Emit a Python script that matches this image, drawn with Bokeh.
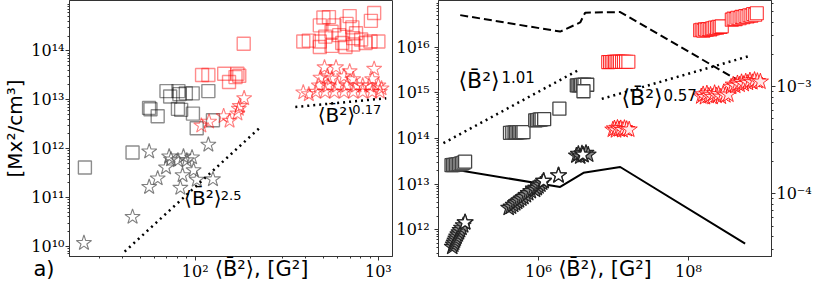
from bokeh.plotting import figure
from bokeh.models import (Range1d, LogAxis, LogScale, FixedTicker,
                          CustomJSTickFormatter)
from bokeh.layouts import row
from bokeh.models import Label
from bokeh.embed import file_html
from bokeh.resources import INLINE

# ---------------- panel a) data ----------------
a_gray_sq_x = [25, 45.5, 56, 57, 62.4, 69.7, 73, 81, 82, 88.9, 96.9, 83.8, 80.5, 97.2, 101.9, 118, 125]
a_gray_sq_y = [4.1e11, 8.3e11, 6.8e12, 6.4e12, 4.6e12, 1.5e13, 1.16e13, 1.5e13, 1.3e13, 1.35e13,
               1.35e13, 6.2e12, 6.5e12, 5.2e12, 2.6e12, 1.5e13, 3.8e12]
a_gray_st_x = [24.7, 45.5, 56.1, 56.1, 62.4, 69.3, 72.1, 73.8, 80.5, 86.3, 90, 96.1, 85.3, 98, 102, 83, 125, 118]
a_gray_st_y = [1.17e10, 4e10, 8.7e11, 1.64e11, 2.45e11, 4.1e11, 6.9e11, 6e11, 5.75e11, 6.9e11,
               5.75e11, 6.6e11, 2.85e11, 3.6e11, 2.3e11, 1.57e11, 2.35e11, 1.2e12]
a_red_sq_x = [109, 118, 144, 153, 170, 174, 166, 184,
              948, 910, 537, 501, 479, 697, 670, 721, 575, 555, 611, 389, 417, 479, 479,
              555, 635, 661, 729, 729, 805, 851, 906, 1000, 513, 755]
a_red_sq_y = [3.2e13, 3.2e13, 3.4e13, 2.3e13, 3.4e13, 3.1e13, 2.9e13, 1.4e14,
              5.94e14, 4.1e14, 4.9e14, 4.79e14, 3.31e14, 5.13e14, 3.55e14, 3.02e14, 3.31e14,
              2.45e14, 2.09e14, 1.55e14, 1.62e14, 1.55e14, 1.2e14, 1.26e14, 1.45e14, 1.2e14,
              1.82e14, 1.35e14, 1.7e14, 1.45e14, 1.55e14, 1.55e14, 1.95e14, 2.29e14]
a_red_st_x = [108, 119, 143, 154, 170, 173, 175, 185,
              389, 417, 508, 587, 697, 948, 483, 525, 556, 649, 729, 925,
              473, 532, 598, 674, 759, 821, 889, 1000, 1040,
              455, 512, 575, 649, 729, 821, 925, 1018]
a_red_st_y = [2.95e12, 3.55e12, 4.6e12, 3.7e12, 5.2e12, 6.5e12, 7.4e12, 1.07e13,
              1.41e13, 1.29e13, 4.6e13, 4.6e13, 3.8e13, 4.27e13, 2.82e13, 3.0e13, 2.7e13,
              3.0e13, 2.63e13, 2.63e13,
              1.95e13, 1.95e13, 1.95e13, 1.95e13, 1.95e13, 1.95e13, 1.95e13, 1.95e13, 1.7e13,
              1.45e13, 1.45e13, 1.45e13, 1.45e13, 1.45e13, 1.45e13, 1.45e13, 1.45e13]
a_fit1_x = [41.2, 230.7]
a_fit1_y = [7.8e9, 2.9e12]
a_fit2_x = [352, 1104]
a_fit2_y = [7.1e12, 1.07e13]

# ---------------- panel b) data ----------------
b_gray_sq_x = [6.92e4, 7.24e4, 7.59e4, 7.94e4, 8.32e4, 8.71e4, 9.12e4, 9.55e4, 1.0e5, 1.05e5,
               4.17e5, 4.47e5, 4.79e5, 5.0e5, 5.25e5, 5.5e5, 5.75e5, 6.03e5, 6.31e5,
               9.04e5, 9.5e5, 1.0e6, 1.05e6, 1.1e6, 1.19e6,
               1.9e6,
               3.24e6, 3.4e6, 3.55e6, 3.7e6, 3.9e6, 4.1e6, 4.47e6,
               3.98e6]
b_gray_sq_y = [2.6e13, 2.62e13, 2.65e13, 2.68e13, 2.7e13, 2.75e13, 2.8e13, 2.85e13, 2.95e13, 3.1e13,
               1.33e14, 1.34e14, 1.35e14, 1.35e14, 1.36e14, 1.37e14, 1.37e14, 1.38e14, 1.38e14,
               2.5e14, 2.53e14, 2.56e14, 2.6e14, 2.62e14, 2.65e14,
               4.5e14,
               1.45e15, 1.46e15, 1.47e15, 1.48e15, 1.49e15, 1.5e15, 1.5e15,
               1.08e15]
b_red_sq_x = [8.5e6, 9.0e6, 9.5e6, 1.0e7, 1.05e7, 1.1e7, 1.16e7, 1.22e7, 1.3e7, 1.38e7, 1.47e7, 1.58e7,
              1.43e8, 1.5e8, 1.58e8, 1.66e8, 1.75e8, 1.85e8, 1.95e8, 2.05e8, 2.15e8, 2.27e8,
              2.4e8, 2.52e8, 2.65e8, 2.78e8,
              3.78e8, 4.0e8, 4.25e8, 4.5e8, 4.8e8, 5.1e8, 5.4e8, 5.75e8, 6.1e8, 6.5e8,
              6.9e8, 7.3e8, 7.75e8, 8.15e8]
b_red_sq_y = [4.7e15, 4.72e15, 4.74e15, 4.75e15, 4.76e15, 4.75e15, 4.77e15, 4.78e15, 4.76e15,
              4.78e15, 4.8e15, 4.8e15,
              2.35e16, 2.4e16, 2.3e16, 2.45e16, 2.4e16, 2.5e16, 2.45e16, 2.55e16, 2.6e16, 2.7e16,
              2.65e16, 2.8e16, 2.75e16, 2.85e16,
              4.0e16, 4.2e16, 4.1e16, 4.4e16, 4.3e16, 4.6e16, 4.5e16, 4.8e16, 4.7e16, 5.0e16,
              4.9e16, 5.3e16, 5.1e16, 5.5e16]
b_gray_st_x = [7.08e4, 7.3e4, 7.5e4, 7.7e4, 7.9e4, 8.1e4, 8.4e4, 8.7e4, 9.0e4, 9.4e4, 9.9e4, 1.05e5,
               4.0e5, 4.3e5, 4.6e5, 4.9e5, 5.2e5, 5.5e5, 5.9e5, 6.3e5, 6.8e5, 7.3e5, 7.9e5, 8.5e5,
               9.0e5, 9.5e5, 1.0e6, 1.06e6, 1.12e6, 1.17e6,
               1.85e6,
               3.2e6, 3.4e6, 3.6e6, 3.8e6, 4.0e6, 4.3e6, 4.6e6]
b_gray_st_y = [4.2e11, 4.7e11, 5.2e11, 5.8e11, 6.4e11, 7.1e11, 7.9e11, 8.8e11, 9.8e11, 1.1e12,
               1.25e12, 1.45e12,
               3.0e12, 3.2e12, 3.5e12, 3.8e12, 4.1e12, 4.4e12, 4.8e12, 5.2e12, 5.7e12, 6.3e12,
               7.0e12, 7.9e12,
               7.5e12, 8.2e12, 8.9e12, 9.7e12, 1.07e13, 1.17e13,
               1.55e13,
               4.2e13, 4.6e13, 4.0e13, 4.7e13, 4.3e13, 4.8e13, 4.4e13]
b_front_st_x = [1.05e5, 1.17e6, 1.85e6, 3.9e6]
b_front_st_y = [1.45e12, 1.17e13, 1.55e13, 4.4e13]
b_red_st_x = [9.8e6, 1.03e7, 1.08e7, 1.13e7, 1.19e7, 1.25e7, 1.32e7, 1.4e7, 1.5e7, 1.62e7,
              1.48e8, 1.57e8, 1.66e8, 1.76e8, 1.86e8, 1.97e8, 2.1e8, 2.23e8, 2.37e8, 2.52e8,
              2.7e8, 2.9e8, 3.1e8, 3.4e8,
              3.7e8, 3.95e8, 4.2e8, 4.5e8, 4.8e8, 5.1e8, 5.45e8, 5.8e8, 6.2e8, 6.6e8,
              7.1e8, 7.6e8, 8.3e8, 9.1e8]
b_red_st_y = [1.55e14, 1.65e14, 1.5e14, 1.7e14, 1.58e14, 1.66e14, 1.52e14, 1.68e14, 1.6e14, 1.56e14,
              8.3e14, 9.2e14, 8.0e14, 9.6e14, 8.5e14, 9.0e14, 8.1e14, 9.8e14, 8.6e14, 9.3e14,
              8.2e14, 9.5e14, 8.8e14, 9.1e14,
              1.35e15, 1.5e15, 1.42e15, 1.6e15, 1.5e15, 1.7e15, 1.55e15, 1.75e15, 1.65e15,
              1.85e15, 1.7e15, 1.9e15, 1.8e15, 1.75e15]
b_dash_x = [9.04e4, 1.945e6, 3.6e6, 4.19e6, 1.23e7, 5.7e8]
b_dash_y = [4.66e-3, 3.27e-3, 3.98e-3, 4.91e-3, 4.98e-3, 1.05e-3]
b_solid_x = [9.04e4, 1.945e6, 3.98e6, 1.23e7, 5.7e8]
b_solid_y = [1.65e-4, 1.16e-4, 1.57e-4, 1.78e-4, 3.43e-5]
b_fit1_x = [5.4e4, 3.41e6]
b_fit1_y = [7.9e13, 3.14e15]
b_fit2_x = [6.98e6, 6.64e8]
b_fit2_y = [7.36e14, 6.46e15]

a_x_ticks = [1e2, 1e3]
a_y_ticks = [1e10, 1e11, 1e12, 1e13, 1e14]
b_x_ticks = [1e6, 1e8]
b_y_ticks = [1e12, 1e13, 1e14, 1e15, 1e16]
b_y2_ticks = [1e-4, 1e-3]

A_X_RANGE = (20.6, 1194)
A_Y_RANGE = (6.2e9, 1.07e15)
B_X_RANGE = (4.64e4, 1.28e9)
B_Y_RANGE = (2.6e11, 1.05e17)
B_Y2_RANGE = (2.6e-5, 6.38e-3)

SANS = "DejaVu Sans"
SERIF = "DejaVu Serif"
NB = "\u00a0"
XLABEL = "\u27e8B\u0304\u00b2\u27e9, [G\u00b2]"
POW = "\u27e8B\u0304\u00b2\u27e9"


def fmt():
    return CustomJSTickFormatter(code="""
const s = {"0":"\u2070","1":"\u00b9","2":"\u00b2","3":"\u00b3","4":"\u2074","5":"\u2075",
           "6":"\u2076","7":"\u2077","8":"\u2078","9":"\u2079","-":"\u207b"};
const e = Math.round(Math.log10(tick));
return "10" + String(e).split("").map(c => s[c]).join("");
""")


def minors(lo, hi):
    return [m * 10.0 ** e for e in range(lo, hi) for m in range(2, 10)]


def style_axis(ax):
    ax.major_label_text_font = SERIF
    ax.major_label_text_font_size = "16px"
    ax.major_label_text_color = "black"
    ax.major_label_standoff = 1
    ax.axis_line_color = "#333333"
    ax.major_tick_line_color = "#333333"
    ax.minor_tick_line_color = "#333333"
    ax.major_tick_out = 4
    ax.major_tick_in = 0
    ax.minor_tick_out = 2
    ax.minor_tick_in = 0
    ax.formatter = fmt()


def base_fig(width, xr, yr, mbl, mbr):
    p = figure(width=width, height=283, x_axis_type="log", y_axis_type="log",
               x_range=Range1d(*xr), y_range=Range1d(*yr),
               output_backend="svg", toolbar_location=None,
               min_border_left=mbl, min_border_right=mbr,
               min_border_top=0, min_border_bottom=10)
    p.xgrid.visible = False
    p.ygrid.visible = False
    p.outline_line_color = "#333333"
    p.outline_line_width = 1
    p.background_fill_color = "white"
    p.border_fill_color = "white"
    return p


def power_label(p, text, exp, x, y, ex, ey, size=20, esize=13):
    p.add_layout(Label(x=x, y=y, text=text, text_font=SANS, text_font_size=f"{size}px",
                       text_baseline="bottom", text_align="left", text_color="black"))
    p.add_layout(Label(x=ex, y=ey, text=exp, text_font=SANS, text_font_size=f"{esize}px",
                       text_baseline="top", text_align="left", text_color="black"))


def bottom_label(ax, text):
    ax.axis_label = text
    ax.axis_label_text_font = SANS
    ax.axis_label_text_font_size = "21px"
    ax.axis_label_text_font_style = "normal"
    ax.axis_label_text_color = "black"
    ax.axis_label_standoff = -27


# ---------------- panel a) ----------------
p1 = base_fig(434, A_X_RANGE, A_Y_RANGE, 50, 42)
style_axis(p1.xaxis[0])
style_axis(p1.yaxis[0])
p1.xaxis[0].ticker = FixedTicker(ticks=a_x_ticks, minor_ticks=minors(1, 4))
p1.yaxis[0].ticker = FixedTicker(ticks=a_y_ticks, minor_ticks=minors(9, 15))
p1.yaxis[0].axis_label = "[Mx\u00b2/cm\u00b3]"
p1.yaxis[0].axis_label_text_font = SANS
p1.yaxis[0].axis_label_text_font_size = "20px"
p1.yaxis[0].axis_label_text_font_style = "normal"
p1.yaxis[0].axis_label_text_color = "black"
p1.yaxis[0].axis_label_standoff = 1
bottom_label(p1.xaxis[0], "a)" + NB * 24 + XLABEL + NB * 18)

# tick labels of panel b)'s left axis live in the gap between the panels
p1.extra_y_ranges = {"b": Range1d(*B_Y_RANGE)}
p1.extra_y_scales = {"b": LogScale()}
ax_b = LogAxis(y_range_name="b")
style_axis(ax_b)
ax_b.ticker = FixedTicker(ticks=b_y_ticks, minor_ticks=[])
ax_b.axis_line_color = None
ax_b.major_tick_line_color = None
ax_b.minor_tick_line_color = None
ax_b.major_tick_out = 3
p1.add_layout(ax_b, "right")

p1.scatter(a_gray_sq_x, a_gray_sq_y, marker="square", size=13, fill_color=None,
           line_color="black", line_alpha=0.45, line_width=1.4)
p1.scatter(a_gray_st_x, a_gray_st_y, marker="star", size=16, fill_color=None,
           line_color="#555555", line_alpha=0.75, line_width=1.1)
p1.scatter(a_red_sq_x, a_red_sq_y, marker="square", size=13, fill_color=None,
           line_color="red", line_alpha=0.45, line_width=1.4)
p1.scatter(a_red_st_x, a_red_st_y, marker="star", size=16, fill_color=None,
           line_color="red", line_alpha=0.5, line_width=1.1)
p1.line(a_fit1_x, a_fit1_y, line_color="black", line_width=2.5, line_dash="2 4")
p1.line(a_fit2_x, a_fit2_y, line_color="black", line_width=2.5, line_dash="2 4")

power_label(p1, POW, "2.5", 87, 5.56e10, 138, 1.35e11)
power_label(p1, POW, "0.17", 466, 2.8e12, 721, 7.8e12)

# ---------------- panel b) ----------------
p2 = base_fig(380, B_X_RANGE, B_Y_RANGE, 4, 30)
style_axis(p2.xaxis[0])
style_axis(p2.yaxis[0])
p2.xaxis[0].ticker = FixedTicker(ticks=b_x_ticks, minor_ticks=[])
p2.yaxis[0].ticker = FixedTicker(ticks=b_y_ticks, minor_ticks=minors(11, 17))
p2.yaxis[0].formatter = CustomJSTickFormatter(code="return ''")
p2.yaxis[0].major_label_standoff = 0
p2.extra_y_ranges = {"r": Range1d(*B_Y2_RANGE)}
p2.extra_y_scales = {"r": LogScale()}
ax_r = LogAxis(y_range_name="r")
style_axis(ax_r)
ax_r.ticker = FixedTicker(ticks=b_y2_ticks, minor_ticks=minors(-5, -2))
p2.add_layout(ax_r, "right")
bottom_label(p2.xaxis[0], XLABEL)

p2.line(b_dash_x, b_dash_y, y_range_name="r", line_color="black", line_width=2,
        line_dash="8 4")
p2.line(b_solid_x, b_solid_y, y_range_name="r", line_color="black", line_width=2)
p2.line(b_fit1_x, b_fit1_y, line_color="black", line_width=2.5, line_dash="2 4")
p2.line(b_fit2_x, b_fit2_y, line_color="black", line_width=2.5, line_dash="2 4")

p2.scatter(b_gray_st_x, b_gray_st_y, marker="star", size=17, fill_color="#8a8a8a",
           line_color="#222222", line_width=1.1)
p2.scatter(b_front_st_x, b_front_st_y, marker="star", size=17, fill_color="white",
           line_color="#222222", line_width=1.3)
p2.scatter(b_gray_sq_x, b_gray_sq_y, marker="square", size=13, fill_color="white",
           line_color="#444444", line_width=1.3)
p2.scatter(b_red_sq_x, b_red_sq_y, marker="square", size=13, fill_color="white",
           line_color="red", line_alpha=0.8, line_width=1.1)
p2.scatter(b_red_st_x, b_red_st_y, marker="star", size=17, fill_color="#ffe8e8",
           line_color="red", line_alpha=0.8, line_width=1.0)

power_label(p2, POW, "1.01", 8.58e4, 1.0e15, 3.21e5, 2.99e15, 22, 15)
power_label(p2, POW, "0.57", 1.28e7, 4.24e14, 4.64e7, 1.21e15, 22, 15)

layout = row(p1, p2)
open("out.html", "w").write(file_html(layout, INLINE))
